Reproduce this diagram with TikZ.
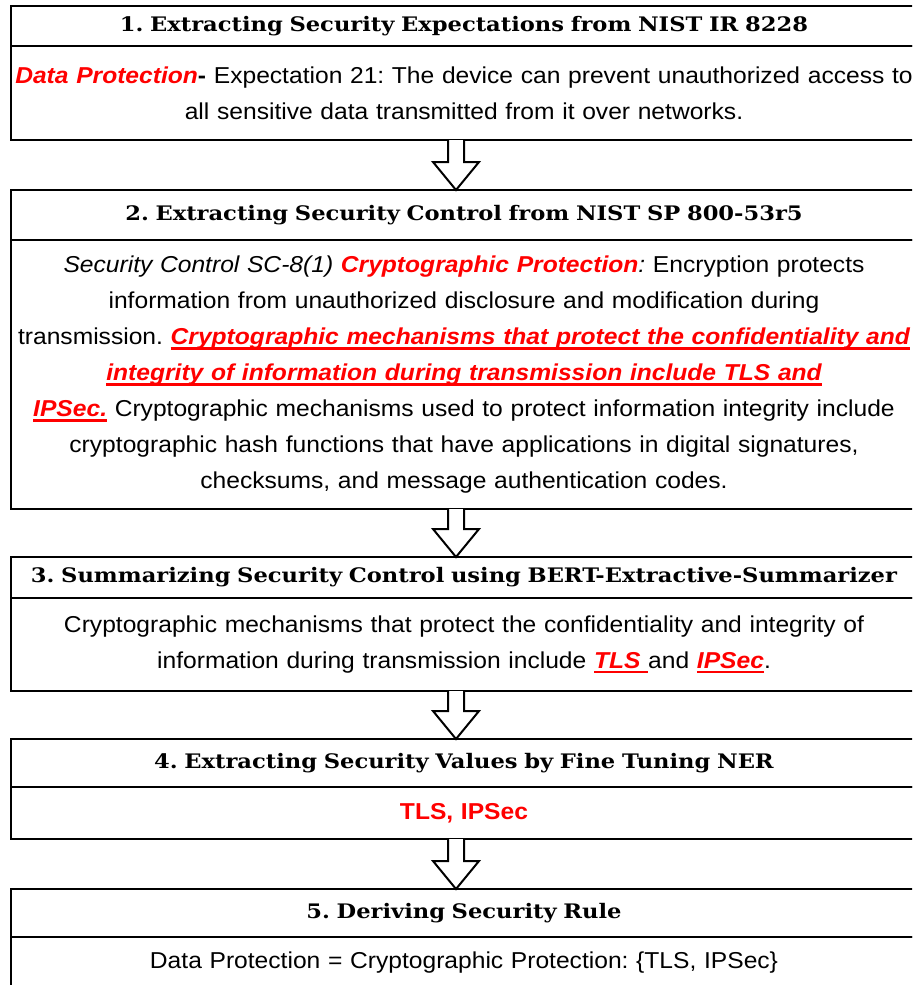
\documentclass[tikz,border=0pt]{standalone}
\usepackage{fontspec}
\setmainfont{Liberation Sans}[FakeStretch=1.07]
\newfontfamily\headfont{DejaVu Serif}[FakeStretch=1.13]
\usetikzlibrary{positioning,calc}
\frenchspacing

\newcommand{\redterm}[1]{{\color{red}\bfseries\itshape #1}}
\newcommand{\redline}[1]{\leavevmode{\color{red}\bfseries\itshape\setbox0\hbox{#1}\rlap{\rule[-2.6pt]{\wd0}{1.4pt}}\box0}}
\newcommand{\flowarrow}[2]{%
  \draw[blockarrow] ($(#1.south)+(-8,0)$) |- ($(#2.north)+(-15.5,14)$)
    -- ($(#2.north)+(-4,0)$) -- ($(#2.north)+(7.5,14)$) -| ($(#1.south)+(0,0)$);}

\begin{document}
\begin{tikzpicture}[
        x=1pt, y=1pt,
        head/.style={draw, line width=1pt, minimum width=453pt, text width=452pt, inner sep=0pt, outer sep=0pt, align=center,
            font=\headfont\bfseries\fontsize{10}{12}\selectfont},
        body/.style={draw, line width=1pt, minimum width=453pt, text width=452pt, inner sep=0pt, outer sep=0pt, align=center,
            font=\fontsize{11.5}{18}\selectfont},
        blockarrow/.style={draw, line width=1pt, fill=white, line join=miter}
    ]
        \useasboundingbox (0,0) rectangle (456,-492.5);
        \clip (0,0) rectangle (456,-492.5);

        % === Step 1 ===
        \node[head, minimum height=20pt, anchor=north west] (h1) at (5.5,-3) {1. Extracting Security Expectations from NIST IR 8228};
        \node[body, minimum height=47pt, below=0pt of h1] (b1) {\redterm{Data Protection}\textbf{-} Expectation 21: The device can prevent unauthorized access to\\
            all sensitive data transmitted from it over networks.};

        % === Step 2 ===
        \node[head, minimum height=25pt, below=25pt of b1] (h2) {2. Extracting Security Control from NIST SP 800-53r5};
        \node[body, minimum height=134.5pt, below=0pt of h2] (b2) {\textit{Security Control SC-8(1)} \redterm{Cryptographic Protection}\textit{:} Encryption protects\\
            information from unauthorized disclosure and modification during\\
            transmission. \redline{Cryptographic mechanisms that protect the confidentiality and}\\
            \redline{integrity of information during transmission include TLS and}\\
            \redline{IPSec.} Cryptographic mechanisms used to protect information integrity include\\
            cryptographic hash functions that have applications in digital signatures,\\
            checksums, and message authentication codes.};

        % === Step 3 ===
        \node[head, minimum height=20.5pt, below=24pt of b2] (h3) {3. Summarizing Security Control using BERT-Extractive-Summarizer};
        \node[body, minimum height=46.5pt, below=0pt of h3] (b3) {Cryptographic mechanisms that protect the confidentiality and integrity of\\
            information during transmission include \redline{TLS~}and \redline{IPSec}.};

        % === Step 4 ===
        \node[head, minimum height=24pt, below=24pt of b3] (h4) {4. Extracting Security Values by Fine Tuning NER};
        \node[body, minimum height=26pt, below=0pt of h4] (b4) {{\color{red}\bfseries TLS, IPSec}};

        % === Step 5 ===
        \node[head, minimum height=24pt, below=25pt of b4] (h5) {5. Deriving Security Rule};
        \node[body, minimum height=26pt, below=0pt of h5] (b5) {Data Protection = Cryptographic Protection: \{TLS, IPSec\}};

        \flowarrow{b1}{h2}
        \flowarrow{b2}{h3}
        \flowarrow{b3}{h4}
        \flowarrow{b4}{h5}
    \end{tikzpicture}
\end{document}
